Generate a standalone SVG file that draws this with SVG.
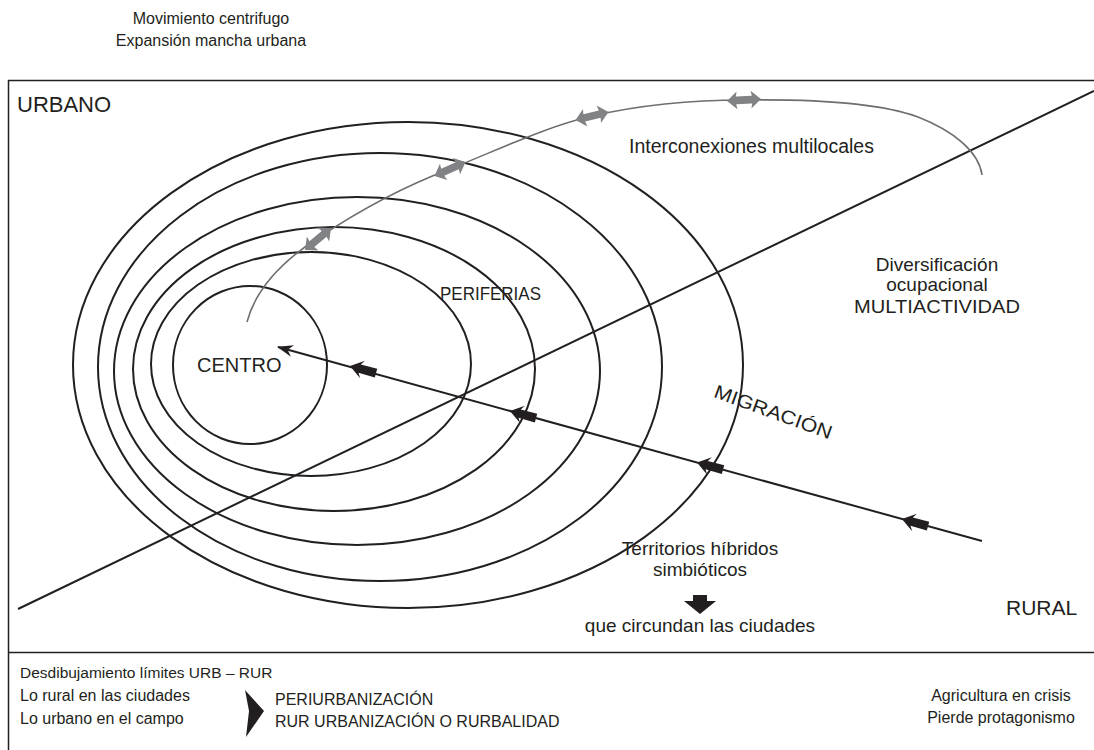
<svg xmlns="http://www.w3.org/2000/svg" width="1094" height="750" viewBox="0 0 1094 750">
<defs>
<style>
text{font-family:"Liberation Sans",Arial,sans-serif;fill:#231f20}
.ring{fill:none;stroke:#231f20;stroke-width:2}
.ln{fill:none;stroke:#231f20;stroke-width:2}
.frame{fill:none;stroke:#231f20;stroke-width:1.5}
.gray{fill:none;stroke:#6d6e70;stroke-width:1.6}
.dbl{fill:#808285}
.blk{fill:#231f20}
</style>
<path id="dbl" d="M-17,0 L-7,-9 L-8,-3.8 L8,-3.8 L7,-9 L17,0 L7,9 L8,3.8 L-8,3.8 L-7,9 Z"/>
<path id="big" d="M0,0 L13,-9 L10,-4.2 L27,-4.5 L27,4.5 L10,4.2 L13,9 Z"/>
<marker id="tip" viewBox="0 0 16 12" refX="15" refY="6" markerWidth="16" markerHeight="12" markerUnits="userSpaceOnUse" orient="auto">
<path d="M16,6 L0,0 L5,6 L0,12 Z" fill="#231f20"/>
</marker>
</defs>
<rect width="1094" height="750" fill="#ffffff"/>

<g id="frame">
<path class="frame" d="M1094,80.5 H8.5 V750 M8.5,652.5 H1094"/>
</g>

<g id="titles">
<text x="211" y="24" font-size="16" text-anchor="middle">Movimiento centrifugo</text>
<text x="211" y="46" font-size="16" text-anchor="middle">Expansión mancha urbana</text>
</g>

<g id="rings">
<ellipse class="ring" cx="408" cy="365" rx="335" ry="243"/>
<ellipse class="ring" cx="380" cy="367" rx="282" ry="214"/>
<ellipse class="ring" cx="357" cy="371" rx="243" ry="174"/>
<ellipse class="ring" cx="334" cy="369" rx="201" ry="142"/>
<ellipse class="ring" cx="311" cy="364" rx="160" ry="112"/>
<ellipse class="ring" cx="250" cy="365" rx="77" ry="79"/>
</g>

<g id="connectors">
<path class="ln" d="M18,609 L1094,91"/>
<path class="ln" d="M982,541 L278,347" marker-end="url(#tip)"/>
<path class="gray" d="M247,322 C256,288 284,260 318,238 C360,210 405,186 450,169 C500,149 545,127 592,116 C640,105 690,100 744,100 C820,99 880,103 918,117 C954,131 979,152 982,175"/>
<use href="#dbl" class="dbl" transform="translate(318,239) rotate(-40)"/>
<use href="#dbl" class="dbl" transform="translate(450,169) rotate(-24)"/>
<use href="#dbl" class="dbl" transform="translate(592,116) rotate(-14)"/>
<use href="#dbl" class="dbl" transform="translate(744,100) rotate(-3)"/>
<use href="#big" class="blk" transform="translate(350,366) rotate(15.4)"/>
<use href="#big" class="blk" transform="translate(510,411) rotate(15.4)"/>
<use href="#big" class="blk" transform="translate(697,462.5) rotate(15.4)"/>
<use href="#big" class="blk" transform="translate(902,519) rotate(15.4)"/>
</g>

<g id="urbano"><text x="17" y="112" font-size="22">URBANO</text></g>
<g id="rural"><text x="1006" y="615" font-size="21">RURAL</text></g>
<g id="centro"><text x="197" y="372" font-size="20">CENTRO</text></g>
<g id="periferias"><text x="440" y="300" font-size="19" textLength="101" lengthAdjust="spacingAndGlyphs">PERIFERIAS</text></g>
<g id="interconexiones"><text x="629" y="153" font-size="19.5">Interconexiones multilocales</text></g>
<g id="diversificacion">
<text x="937" y="271" font-size="19" text-anchor="middle">Diversificación</text>
<text x="937" y="291" font-size="19" text-anchor="middle">ocupacional</text>
<text x="937" y="313" font-size="19" text-anchor="middle" textLength="166" lengthAdjust="spacingAndGlyphs">MULTIACTIVIDAD</text>
</g>
<g id="migracion"><text font-size="19" text-anchor="middle" textLength="124" lengthAdjust="spacingAndGlyphs" transform="translate(771,418) rotate(20)">MIGRACIÓN</text></g>
<g id="territorios">
<text x="700" y="555" font-size="19" text-anchor="middle">Territorios híbridos</text>
<text x="700" y="576" font-size="19" text-anchor="middle">simbióticos</text>
<path class="blk" d="M693,595 H707 V601 H716 L700,614 L684,601 H693 Z"/>
<text x="700" y="632" font-size="19" text-anchor="middle">que circundan las ciudades</text>
</g>

<g id="legend">
<text x="20" y="678" font-size="15.5">Desdibujamiento límites URB – RUR</text>
<text x="20" y="701" font-size="16">Lo rural en las ciudades</text>
<text x="20" y="724" font-size="16">Lo urbano en el campo</text>
<path class="blk" d="M245,690 L264,711 L246,737 L249,711 Z"/>
<text x="275" y="705" font-size="16">PERIURBANIZACIÓN</text>
<text x="275" y="727" font-size="16">RUR URBANIZACIÓN O RURBALIDAD</text>
<text x="1001" y="701" font-size="16" text-anchor="middle">Agricultura en crisis</text>
<text x="1001" y="723" font-size="16" text-anchor="middle">Pierde protagonismo</text>
</g>
</svg>
